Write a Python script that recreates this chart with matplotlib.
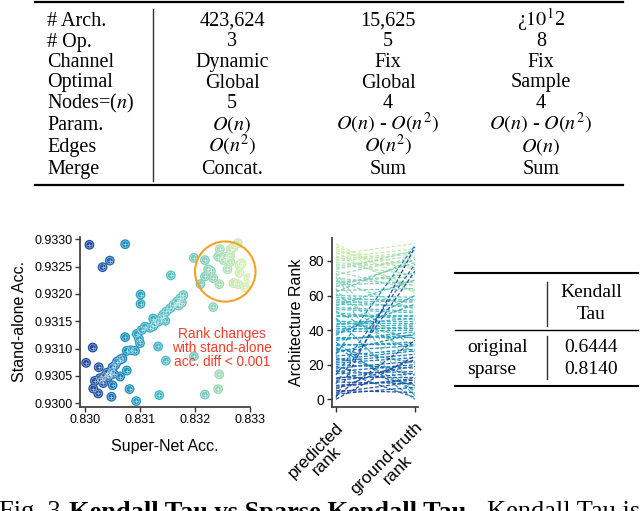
import numpy as np
import matplotlib
matplotlib.use("Agg")
import matplotlib.pyplot as plt
from matplotlib.lines import Line2D
from matplotlib.patches import Ellipse

plt.rcParams["mathtext.fontset"] = "stix"

W, H = 640, 511
SERIF = "Liberation Serif"
SANS = "Liberation Sans"

# ---- top table ----
row_labels = ["# Arch.", "# Op.", "Channel", "Optimal", "Nodes=($n$)", "Param.", "Edges", "Merge"]
col_a = ["423,624", "3", "Dynamic", "Global", "5", "$O(n)$", "$O(n^2)$", "Concat."]
col_b = ["15,625", "5", "Fix", "Global", "4", "$O(n)$ - $O(n^2)$", "$O(n^2)$", "Sum"]
col_c = ["¿$10^1$2", "8", "Fix", "Sample", "4", "$O(n)$ - $O(n^2)$", "$O(n)$", "Sum"]

# ---- scatter: super-net vs stand-alone accuracy ----
super_net_acc = [
    0.83008, 0.83073, 0.83045, 0.83032, 0.83156, 0.83101, 0.83101, 0.83014, 0.83002, 0.83073,
    0.83076, 0.83083, 0.83091, 0.83094, 0.83100, 0.83098, 0.83103, 0.83109, 0.83118, 0.83124,
    0.83127, 0.83124, 0.83133, 0.83139, 0.83142, 0.83146, 0.83148, 0.83155, 0.83161, 0.83167,
    0.83170, 0.83173, 0.83176, 0.83179, 0.83133, 0.83147, 0.83198,
    0.83064, 0.83058, 0.83050, 0.83045, 0.83040, 0.83036, 0.83048, 0.83027, 0.83018, 0.83064,
    0.83076, 0.83033, 0.83050, 0.83015, 0.83024, 0.83048, 0.83081, 0.83093, 0.83025, 0.83055,
    0.83042, 0.83030, 0.83068, 0.83052,
    0.83135, 0.83218, 0.83242, 0.83244, 0.83233,
    0.83198, 0.83218, 0.83242, 0.83256, 0.83265, 0.83278, 0.83270, 0.83281, 0.83291, 0.83278,
    0.83259, 0.83244, 0.83233, 0.83224, 0.83229, 0.83210, 0.83218, 0.83245, 0.83252, 0.83264,
    0.83285, 0.83297, 0.83281, 0.83270, 0.83264,
]
stand_alone_acc = [
    0.93290, 0.93291, 0.93261, 0.93249, 0.93234, 0.93199, 0.93182, 0.93102, 0.93074, 0.93121,
    0.93096, 0.93097, 0.93096, 0.93127, 0.93110, 0.93118, 0.93134, 0.93140, 0.93138, 0.93141,
    0.93146, 0.93155, 0.93149, 0.93156, 0.93162, 0.93151, 0.93168, 0.93174, 0.93180, 0.93186,
    0.93179, 0.93192, 0.93184, 0.93198, 0.93104, 0.93078, 0.93086,
    0.93080, 0.93076, 0.93066, 0.93052, 0.93056, 0.93050, 0.93058, 0.93046, 0.93041, 0.93049,
    0.93060, 0.93037, 0.93033, 0.93027, 0.93018, 0.93012, 0.93026, 0.93004, 0.93066, 0.93070,
    0.93048, 0.93043, 0.93082, 0.93054,
    0.93015, 0.93016, 0.93026, 0.93053, 0.93176,
    0.93266, 0.93262, 0.93268, 0.93268, 0.93282, 0.93293, 0.93285, 0.93253, 0.93212, 0.93218,
    0.93245, 0.93218, 0.93229, 0.93245, 0.93242, 0.93218, 0.93232, 0.93282, 0.93262, 0.93259,
    0.93256, 0.93229, 0.93239, 0.93220, 0.93271,
]

# ---- small table ----
tau_rows = ["original", "sparse"]
tau_vals = ["0.6444", "0.8140"]


def fx(px):
    return px / W


def fy(py):
    return 1 - py / H


def hline(fig, x0, x1, y, lw):
    fig.add_artist(Line2D([fx(x0), fx(x1)], [fy(y), fy(y)], color="black", lw=lw,
                          transform=fig.transFigure))


def vline(fig, x, y0, y1, lw):
    fig.add_artist(Line2D([fx(x), fx(x)], [fy(y0), fy(y1)], color="#333333", lw=lw,
                          transform=fig.transFigure))


fig = plt.figure(figsize=(W / 100, H / 100), dpi=100)

# top table
hline(fig, 35, 623, 2, 1.6)
hline(fig, 35, 623, 185, 1.6)
vline(fig, 153, 9, 181, 1.0)
baselines = [26, 46.5, 67, 87.5, 108, 130, 152, 174]
for i, yb in enumerate(baselines):
    kw = dict(family=SERIF, fontsize=14.5, va="baseline")
    fig.text(fx(47), fy(yb), row_labels[i], ha="left", **kw)
    fig.text(fx(232), fy(yb), col_a[i], ha="center", **kw)
    fig.text(fx(388), fy(yb), col_b[i], ha="center", **kw)
    fig.text(fx(541), fy(yb), col_c[i], ha="center", **kw)

x = np.array(super_net_acc)
y = np.array(stand_alone_acc)
pred_rank = np.argsort(np.argsort(x, kind="stable"), kind="stable")
true_rank = np.argsort(np.argsort(y, kind="stable"), kind="stable")
n = len(x)
cmap = plt.get_cmap("YlGnBu")
colors = cmap(0.82 - 0.62 * pred_rank / (n - 1))

# scatter panel
ax1 = fig.add_axes([fx(80), fy(406.7), fx(250) - fx(80), fy(237) - fy(406.7)])
ax1.scatter(x, y, s=50, c=colors, edgecolors="none", zorder=2)
ax1.scatter(x, y, s=22, facecolors="none", edgecolors="white", linewidths=0.5, alpha=0.55, zorder=3)
ax1.scatter(x, y, s=12, marker="+", c="white", linewidths=0.5, alpha=0.65, zorder=4)
ax1.add_patch(Ellipse((0.83255, 0.93241), 0.0011, 0.0011, fill=False,
                      edgecolor="#f7a129", lw=1.5, clip_on=False, zorder=5))
ax1.text(0.83249, 0.93101, "Rank changes\nwith stand-alone\nacc. diff < 0.001",
         color="#f23c2c", fontsize=9.8, family=SANS, ha="center", va="center",
         linespacing=1.0, zorder=6)
ax1.set_xlim(0.829909, 0.833)
ax1.set_ylim(0.929938, 0.933042)
ax1.set_xticks([0.830, 0.831, 0.832, 0.833])
ax1.set_xticklabels(["0.830", "0.831", "0.832", "0.833"])
ax1.set_yticks([0.9300, 0.9305, 0.9310, 0.9315, 0.9320, 0.9325, 0.9330])
ax1.set_yticklabels(["0.9300", "0.9305", "0.9310", "0.9315", "0.9320", "0.9325", "0.9330"])
ax1.set_xlabel("Super-Net Acc.", family=SANS, fontsize=11.5, labelpad=9)
ax1.set_ylabel("Stand-alone Acc.", family=SANS, fontsize=11.5, labelpad=5)

# rank panel
ax2 = fig.add_axes([fx(331.7), fy(406.7), fx(418) - fx(331.7), fy(238) - fy(406.7)])
for i in np.argsort(-pred_rank):
    ax2.plot([0, 1], [pred_rank[i], true_rank[i]], ls=(0, (3, 1.5)), lw=0.9,
             color=colors[i])
ax2.set_xlim(-0.054, 1.04)
ax2.set_ylim(-4.3, 93.3)
ax2.set_yticks([0, 20, 40, 60, 80])
ax2.set_xticks([0, 1])
ax2.set_xticklabels(["predicted\nrank", "ground-truth\nrank"], rotation=45,
                    ha="right", rotation_mode="anchor", multialignment="center",
                    fontsize=12.5, linespacing=1.0)
ax2.set_ylabel("Architecture Rank", family=SANS, fontsize=11.5, labelpad=3)

for ax in (ax1, ax2):
    for side in ("top", "right"):
        ax.spines[side].set_visible(False)
    for side in ("left", "bottom"):
        ax.spines[side].set_linewidth(1.2)
        ax.spines[side].set_color("#333333")
    ax.tick_params(length=3.5, width=1.0, color="#333333", pad=2)
    for lab in ax.get_xticklabels() + ax.get_yticklabels():
        lab.set_family(SANS)
    if ax is ax1:
        ax.tick_params(labelsize=9)
    else:
        ax.tick_params(axis="y", labelsize=10)
        ax.tick_params(axis="x", pad=6)

# small Kendall Tau table
hline(fig, 455, 638, 273, 1.5)
hline(fig, 455, 638, 330, 1.0)
hline(fig, 455, 638, 386, 1.5)
vline(fig, 547, 282, 326, 1.0)
vline(fig, 547, 336, 379, 1.0)
kw = dict(family=SERIF, fontsize=14, va="baseline")
fig.text(fx(591), fy(297), "Kendall", ha="center", **kw)
fig.text(fx(591), fy(319), "Tau", ha="center", **kw)
for yb, name, val in zip([352, 374], tau_rows, tau_vals):
    fig.text(fx(467), fy(yb), name, ha="left", **kw)
    fig.text(fx(591), fy(yb), val, ha="center", **kw)

# caption (cut off by the figure edge)
ckw = dict(family=SERIF, fontsize=19, va="top")
fig.text(fx(-1), fy(501), "Fig. 3.", ha="left", **ckw)
fig.text(fx(69), fy(501), "Kendall Tau vs Sparse Kendall Tau.", ha="left",
         weight="bold", **ckw)
fig.text(fx(487), fy(501), "Kendall Tau is", ha="left", **ckw)

fig.savefig("out.png", dpi=100)
